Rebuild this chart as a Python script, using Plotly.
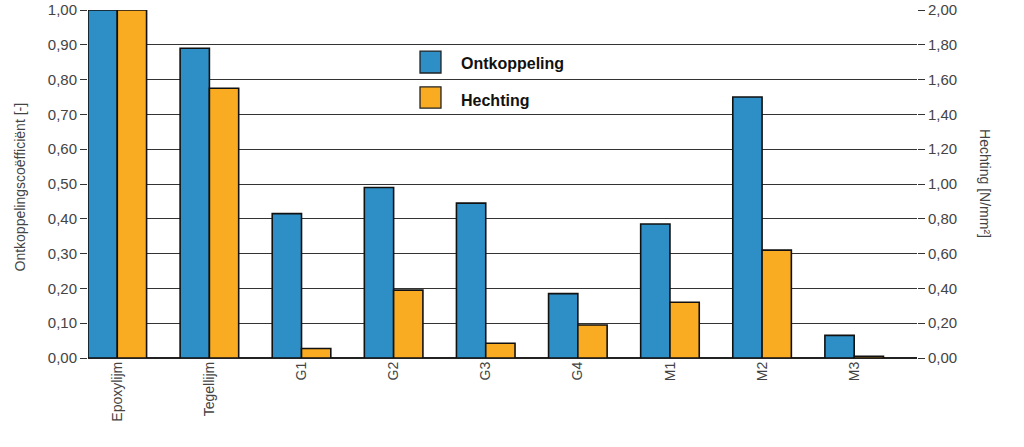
import plotly.graph_objects as go

categories = ["Epoxylijm", "Tegellijm", "G1", "G2", "G3", "G4", "M1", "M2", "M3"]
ontkoppeling = [1.00, 0.89, 0.415, 0.49, 0.445, 0.185, 0.385, 0.75, 0.065]
hechting = [2.00, 1.55, 0.055, 0.39, 0.085, 0.19, 0.32, 0.62, 0.01]
left_ticks = [0.0, 0.1, 0.2, 0.3, 0.4, 0.5, 0.6, 0.7, 0.8, 0.9, 1.0]
right_ticks = [0.0, 0.2, 0.4, 0.6, 0.8, 1.0, 1.2, 1.4, 1.6, 1.8, 2.0]

BLUE = "#2E8FC7"
ORANGE = "#F9AB22"
FONT = "Liberation Sans Narrow, Arial Narrow, Liberation Sans, sans-serif"
TXT = "#444444"

fig = go.Figure()
fig.add_trace(go.Bar(x=categories, y=ontkoppeling, name="Ontkoppeling",
                     marker=dict(color=BLUE, line=dict(color="#111", width=1.6)),
                     offsetgroup="1", yaxis="y", showlegend=False))
fig.add_trace(go.Bar(x=categories, y=hechting, name="Hechting",
                     marker=dict(color=ORANGE, line=dict(color="#111", width=1.6)),
                     offsetgroup="2", yaxis="y2", showlegend=False))

fig.update_layout(
    width=1024, height=447,
    margin=dict(l=88, r=107, t=10, b=89, autoexpand=False),
    paper_bgcolor="white", plot_bgcolor="white",
    barmode="group", bargap=0.364, bargroupgap=0,
    separators=", ",
    font=dict(family=FONT, size=14, color=TXT),
    xaxis=dict(type="category", range=[-0.318, 8.682], tickangle=-90,
               showgrid=False, zeroline=False, showline=False, ticks="",
               automargin=False, tickfont=dict(size=14, color=TXT)),
    yaxis=dict(range=[0, 1.0], tickvals=left_ticks, tickformat=".2f",
               showgrid=True, gridcolor="#333", gridwidth=1.3,
               zeroline=True, zerolinecolor="#222", zerolinewidth=1.6,
               showline=False, ticks="outside", ticklen=7, tickcolor="#333",
               tickwidth=1.3, automargin=False, ticklabeloverflow="allow",
               tickfont=dict(size=15, color=TXT)),
    yaxis2=dict(range=[0, 2.0], tickvals=right_ticks, tickformat=".2f",
                overlaying="y", side="right", showgrid=False, zeroline=False,
                showline=False, ticks="outside", ticklen=7, tickcolor="#333",
                tickwidth=1.3, automargin=False, ticklabeloverflow="allow",
                tickfont=dict(size=15, color=TXT)),
)

# axis titles
fig.add_annotation(text="Ontkoppelingscoëfficiënt [-]", xref="paper", yref="paper",
                   x=-0.082, y=0.49, textangle=-90, showarrow=False,
                   font=dict(size=14, color=TXT), xanchor="center", yanchor="middle")
fig.add_annotation(text="Hechting [N/mm²]", xref="paper", yref="paper",
                   x=1.082, y=0.50, textangle=90, showarrow=False,
                   font=dict(size=14, color=TXT), xanchor="center", yanchor="middle")

# legend (manual)
legend_items = [("Ontkoppeling", BLUE, 0.819, 0.882, 0.845),
                ("Hechting", ORANGE, 0.718, 0.779, 0.741)]
for label, col, y0, y1, yt in legend_items:
    fig.add_shape(type="rect", xref="paper", yref="paper", x0=0.4005, x1=0.4258,
                  y0=y0, y1=y1, fillcolor=col, line=dict(color="#222", width=1.3))
    fig.add_annotation(text="<b>" + label + "</b>", xref="paper", yref="paper",
                       x=0.4475, y=yt, xanchor="left", yanchor="middle", showarrow=False,
                       font=dict(size=16, color="#111"))

fig.write_html("out.html", config={"displayModeBar": False},
               post_script="document.body.style.margin='0';document.body.style.overflow='hidden';")
